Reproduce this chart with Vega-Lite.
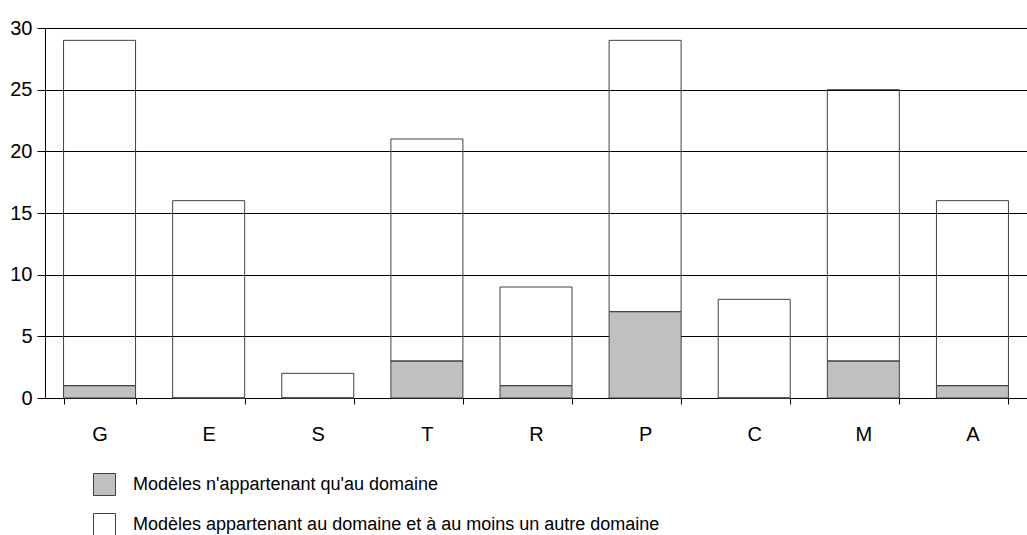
{
  "$schema": "https://vega.github.io/schema/vega-lite/v6.json",
  "autosize": "none",
  "width": 982,
  "height": 370,
  "padding": {"left": 45, "top": 28, "right": 0, "bottom": 137},
  "background": "white",
  "config": {
    "font": "Liberation Sans",
    "view": {"stroke": null}
  },
  "data": {
    "values": [
      {"cat": "G", "type": "Modèles n'appartenant qu'au domaine", "ord": 1, "value": 1},
      {"cat": "G", "type": "Modèles appartenant au domaine et à au moins un autre domaine", "ord": 2, "value": 28},
      {"cat": "E", "type": "Modèles n'appartenant qu'au domaine", "ord": 1, "value": 0},
      {"cat": "E", "type": "Modèles appartenant au domaine et à au moins un autre domaine", "ord": 2, "value": 16},
      {"cat": "S", "type": "Modèles n'appartenant qu'au domaine", "ord": 1, "value": 0},
      {"cat": "S", "type": "Modèles appartenant au domaine et à au moins un autre domaine", "ord": 2, "value": 2},
      {"cat": "T", "type": "Modèles n'appartenant qu'au domaine", "ord": 1, "value": 3},
      {"cat": "T", "type": "Modèles appartenant au domaine et à au moins un autre domaine", "ord": 2, "value": 18},
      {"cat": "R", "type": "Modèles n'appartenant qu'au domaine", "ord": 1, "value": 1},
      {"cat": "R", "type": "Modèles appartenant au domaine et à au moins un autre domaine", "ord": 2, "value": 8},
      {"cat": "P", "type": "Modèles n'appartenant qu'au domaine", "ord": 1, "value": 7},
      {"cat": "P", "type": "Modèles appartenant au domaine et à au moins un autre domaine", "ord": 2, "value": 22},
      {"cat": "C", "type": "Modèles n'appartenant qu'au domaine", "ord": 1, "value": 0},
      {"cat": "C", "type": "Modèles appartenant au domaine et à au moins un autre domaine", "ord": 2, "value": 8},
      {"cat": "M", "type": "Modèles n'appartenant qu'au domaine", "ord": 1, "value": 3},
      {"cat": "M", "type": "Modèles appartenant au domaine et à au moins un autre domaine", "ord": 2, "value": 22},
      {"cat": "A", "type": "Modèles n'appartenant qu'au domaine", "ord": 1, "value": 1},
      {"cat": "A", "type": "Modèles appartenant au domaine et à au moins un autre domaine", "ord": 2, "value": 15}
    ]
  },
  "mark": {"type": "bar", "stroke": "#404040", "strokeWidth": 1},
  "encoding": {
    "x": {
      "field": "cat",
      "type": "nominal",
      "sort": ["G", "E", "S", "T", "R", "P", "C", "M", "A"],
      "scale": {"paddingInner": 0.34, "paddingOuter": 0.17},
      "axis": {
        "title": null,
        "labelAngle": 0,
        "labelFontSize": 20,
        "labelColor": "#000",
        "labelPadding": 20,
        "tickBand": "extent",
        "tickSize": 6,
        "tickColor": "#000",
        "domainColor": "#000",
        "grid": false
      }
    },
    "y": {
      "field": "value",
      "type": "quantitative",
      "stack": "zero",
      "scale": {"domain": [0, 30], "nice": false},
      "axis": {
        "title": null,
        "values": [0, 5, 10, 15, 20, 25, 30],
        "labelFontSize": 20,
        "labelColor": "#000",
        "labelPadding": 5,
        "tickSize": 8,
        "tickColor": "#000",
        "domainColor": "#000",
        "grid": true,
        "gridColor": "#000",
        "gridOpacity": 1
      }
    },
    "order": {"field": "ord", "type": "quantitative"},
    "fill": {
      "field": "type",
      "type": "nominal",
      "sort": ["Modèles n'appartenant qu'au domaine", "Modèles appartenant au domaine et à au moins un autre domaine"],
      "scale": {
        "domain": ["Modèles n'appartenant qu'au domaine", "Modèles appartenant au domaine et à au moins un autre domaine"],
        "range": ["#c0c0c0", "rgba(255,255,255,0)"]
      },
      "legend": {
        "title": null,
        "orient": "none",
        "legendX": 48,
        "legendY": 445,
        "symbolType": "square",
        "symbolSize": 484,
        "symbolStrokeColor": "#404040",
        "symbolStrokeWidth": 1,
        "symbolOpacity": 1,
        "rowPadding": 13,
        "labelFontSize": 18,
        "labelColor": "#000",
        "labelOffset": 17,
        "labelLimit": 800
      }
    }
  }
}
